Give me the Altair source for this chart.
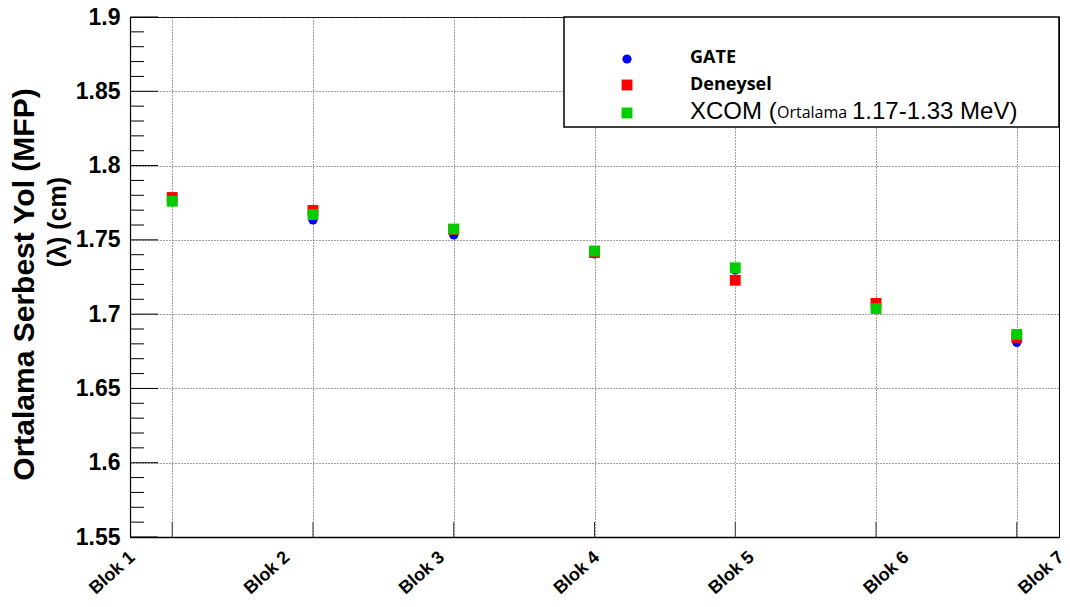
import json
import altair as alt
import pandas as pd

# ---- data ----
bloks = [1, 2, 3, 4, 5, 6, 7]
blok_labels = ["Blok 1", "Blok 2", "Blok 3", "Blok 4", "Blok 5", "Blok 6", "Blok 7"]
gate = [1.776, 1.7634, 1.7533, 1.7405, 1.7297, 1.704, 1.681]
deneysel = [1.7785, 1.7698, 1.757, 1.7415, 1.7228, 1.7072, 1.6844]
xcom = [1.776, 1.767, 1.7573, 1.7425, 1.7312, 1.7037, 1.6864]
series_names = ["GATE", "Deneysel", "XCOM"]
y_major = [1.55, 1.6, 1.65, 1.7, 1.75, 1.8, 1.85, 1.9]
y_minor = [round(1.55 + 0.01 * i, 2) for i in range(36) if i % 5]
y_title_1 = "Ortalama Serbest Yol (MFP)"
y_title_2 = "(λ) (cm)"
legend_xcom = ["XCOM (", "Ortalama", "1.17-1.33 MeV)"]

W, H = 929, 520

df = pd.DataFrame({
    "blok": bloks * 3,
    "value": gate + deneysel + xcom,
    "series": [s for s in series_names for _ in bloks],
})

xs = alt.Scale(domain=[0.7, 7.3], nice=False, zero=False)
ys = alt.Scale(domain=[1.55, 1.9], nice=False, zero=False)


def X():
    return alt.X("blok:Q", scale=xs, title=None,
                 axis=alt.Axis(values=bloks, labels=False, ticks=False, domain=True,
                               domainColor="black", domainWidth=1.5, grid=True,
                               gridColor="#444", gridDash=[1, 2], gridWidth=1,
                               orient="bottom"))


def Y():
    return alt.Y("value:Q", scale=ys, title=y_title_1,
                 axis=alt.Axis(values=y_major, labelExpr="format(datum.value, '~g')",
                               orient="left", ticks=False, domain=True,
                               domainColor="black", domainWidth=1.2,
                               grid=True, gridColor="#444", gridDash=[1, 2], gridWidth=1,
                               labelFont="Liberation Sans",
                               labelFontWeight="bold", labelFontSize=23, labelColor="black",
                               labelPadding=10,
                               titleFont="Liberation Sans", titleFontWeight="bold",
                               titleFontSize=30, titleColor="black", titleAngle=270,
                               titleAlign="center", titleBaseline="alphabetic",
                               titleX=-97, titleY=267))


def one(**kw):
    return pd.DataFrame({k: [v] for k, v in kw.items()})


base = alt.Chart(df)
gate_l = base.transform_filter(alt.datum.series == "GATE").mark_point(
    shape="circle", filled=True, size=85, color="#0000ff", opacity=1, strokeWidth=0
).encode(x=X(), y=Y())
den_l = base.transform_filter(alt.datum.series == "Deneysel").mark_point(
    shape="square", filled=True, size=118, color="#ff0000", opacity=1, strokeWidth=0
).encode(x=X(), y=Y())
xcom_l = base.transform_filter(alt.datum.series == "XCOM").mark_point(
    shape="square", filled=True, size=118, color="#00cc00", opacity=1, strokeWidth=0
).encode(x=X(), y=Y())

maj = alt.Chart(pd.DataFrame({"value": y_major})).mark_rule(color="black", strokeWidth=1).encode(
    y=Y(), x=alt.value(0), x2=alt.value(28))
mnr = alt.Chart(pd.DataFrame({"value": y_minor})).mark_rule(color="black", strokeWidth=1).encode(
    y=Y(), x=alt.value(0), x2=alt.value(14))
xt = alt.Chart(pd.DataFrame({"blok": bloks})).mark_rule(color="#333", strokeWidth=1).encode(
    x=X(), y=alt.value(H), y2=alt.value(H - 15))

# second line of y title
yt2 = alt.Chart(one(t=y_title_2)).mark_text(
    font="Liberation Sans", fontWeight="bold", fontSize=25, angle=270,
    align="center", baseline="alphabetic", color="black"
).encode(x=alt.value(-64), y=alt.value(205), text="t:N")

# legend box
leg_rect = alt.Chart(one(a=1)).mark_rect(fill="white", stroke="black", strokeWidth=1.5).encode(
    x=alt.value(434), x2=alt.value(W), y=alt.value(0), y2=alt.value(110))
leg_c = alt.Chart(one(a=1)).mark_point(shape="circle", filled=True, size=85, color="#0000ff",
                                       opacity=1, strokeWidth=0).encode(
    x=alt.value(497), y=alt.value(42))
leg_r = alt.Chart(one(a=1)).mark_point(shape="square", filled=True, size=118, color="#ff0000",
                                       opacity=1, strokeWidth=0).encode(
    x=alt.value(497), y=alt.value(68))
leg_g = alt.Chart(one(a=1)).mark_point(shape="square", filled=True, size=118, color="#00cc00",
                                       opacity=1, strokeWidth=0).encode(
    x=alt.value(497), y=alt.value(96))
t_gate = alt.Chart(one(t=series_names[0])).mark_text(
    font="Open Sans", fontWeight="bold", fontSize=18, align="left", baseline="alphabetic",
    color="black").encode(x=alt.value(560), y=alt.value(46), text="t:N")
t_den = alt.Chart(one(t=series_names[1])).mark_text(
    font="Open Sans", fontWeight="bold", fontSize=18, align="left", baseline="alphabetic",
    color="black").encode(x=alt.value(560), y=alt.value(73), text="t:N")
t_x1 = alt.Chart(one(t=legend_xcom[0])).mark_text(
    font="Liberation Sans", fontSize=24, align="left", baseline="alphabetic",
    color="black").encode(x=alt.value(560), y=alt.value(102), text="t:N")
t_x2 = alt.Chart(one(t=legend_xcom[1])).mark_text(
    font="Open Sans", fontSize=16, align="left", baseline="alphabetic",
    color="black").encode(x=alt.value(647), y=alt.value(101), text="t:N")
t_x3 = alt.Chart(one(t=legend_xcom[2])).mark_text(
    font="Liberation Sans", fontSize=24, align="left", baseline="alphabetic",
    color="black").encode(x=alt.value(722), y=alt.value(102), text="t:N")

inner = alt.layer(maj, mnr, xt, gate_l, den_l, xcom_l, yt2,
                  leg_rect, leg_c, leg_r, leg_g, t_gate, t_den, t_x1, t_x2, t_x3)

label_layer = alt.Chart(pd.DataFrame({"pos": list(range(len(blok_labels)))})).mark_point(
    opacity=0).encode(
    x=alt.X("pos:Q", scale=alt.Scale(domain=[0, len(blok_labels) - 1], nice=False, zero=False),
            title=None,
            axis=alt.Axis(values=list(range(len(blok_labels))),
                          labelExpr=json.dumps(blok_labels) + "[datum.value]",
                          orient="bottom", domain=False, ticks=False, tickSize=0, grid=False,
                          labelAngle=318, labelAlign="right", labelBaseline="top",
                          labelPadding=11, labelOffset=-4, labelFont="Liberation Sans",
                          labelFontWeight="bold", labelFontSize=18, labelColor="black",
                          labelFlush=False, labelOverlap=False, labelBound=False)))

chart = alt.layer(label_layer, inner).resolve_scale(x="independent").properties(
    width=W, height=H,
    autosize=alt.AutoSizeParams(type="none"),
    padding={"left": 122, "top": 9, "right": 3, "bottom": 62},
    background="white",
).configure_view(stroke="black", strokeWidth=1)

chart.save("out.html", embed_options={"renderer": "svg", "actions": False})
